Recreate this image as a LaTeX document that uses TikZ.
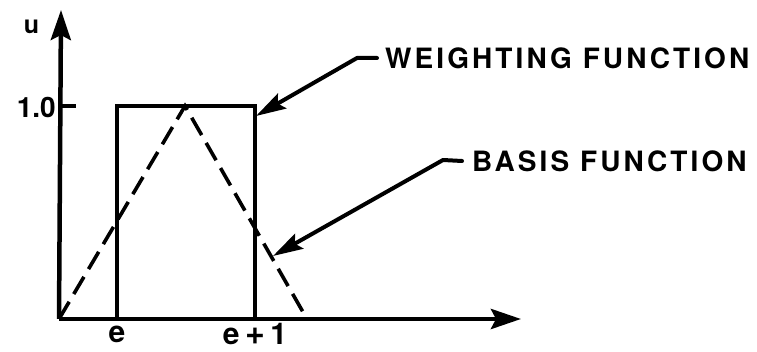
\documentclass[tikz,border=0pt]{standalone}
\usepackage{fontspec}
\setmainfont{TeX Gyre Heros}
\newfontfamily\lblfont[LetterSpace=11]{TeX Gyre Heros}
\usetikzlibrary{arrows.meta}
\begin{document}
\begin{tikzpicture}[x=1pt,y=-1pt,
  axis/.style={line width=4.5pt,-{Stealth[length=30pt,width=20pt,inset=5pt]}},
  leader/.style={line width=4pt,line cap=round,line join=round,-{Stealth[length=30pt,width=17pt,inset=5pt]}},
  boxline/.style={line width=3.8pt,line join=miter},
  dashline/.style={line width=3.6pt,dash pattern=on 20pt off 9pt},
  lbl/.style={font=\lblfont\bfseries\fontsize{28}{28}\selectfont,inner sep=0pt},
  tick/.style={font=\bfseries\fontsize{30}{30}\selectfont,inner sep=0pt}]
\useasboundingbox (0,0) rectangle (757,352);
\coordinate (O) at (59,319);
\coordinate (ytop) at (61,10);
\coordinate (xend) at (521,319);
\coordinate (t1) at (76,106);
\coordinate (t0) at (60,106);
\coordinate (rl) at (117,319);
\coordinate (rlt) at (117,106);
\coordinate (rrt) at (255,106);
\coordinate (rr) at (255,319);
\coordinate (peak) at (185,106);
\coordinate (tend) at (307,319);
% axes
\draw[axis] (O) -- (ytop);
\draw[axis] (O) -- (xend);
\draw[line width=4pt] (t0) -- (t1);
% rectangle (weighting function)
\draw[boxline] (rl) -- (rlt) -- (rrt) -- (rr);
% triangle (basis function)
\draw[dashline] (O) -- (peak) -- (tend);
% labels
\node[inner sep=0pt,font=\bfseries\fontsize{25}{25}\selectfont] (u) at (31.5,27) {u};
\node[inner sep=0pt,font=\bfseries\fontsize{28}{28}\selectfont,anchor=east] (one) at (56,107) {1.0};
\node[tick] (e) at (117,334) {e};
\node[tick] (e1) at (255,334) {e\hspace{6pt}{\fontsize{34}{34}\selectfont +}\hspace{5pt}1};
\node[lbl,anchor=west] (wf) at (385,58) {WEIGHTING FUNCTION};
\node[lbl,anchor=west] (bf) at (472,161) {BASIS FUNCTION};
\coordinate (wa) at (357,58);
\coordinate (wt) at (256,116);
\coordinate (ba) at (443,160);
\coordinate (bt) at (273,256);
\draw[leader] (wf.west) ++(-8,0) -- (wa) -- (wt);
\draw[leader] (bf.west) ++(-10,0) -- (ba) -- (bt);
\end{tikzpicture}
\end{document}
